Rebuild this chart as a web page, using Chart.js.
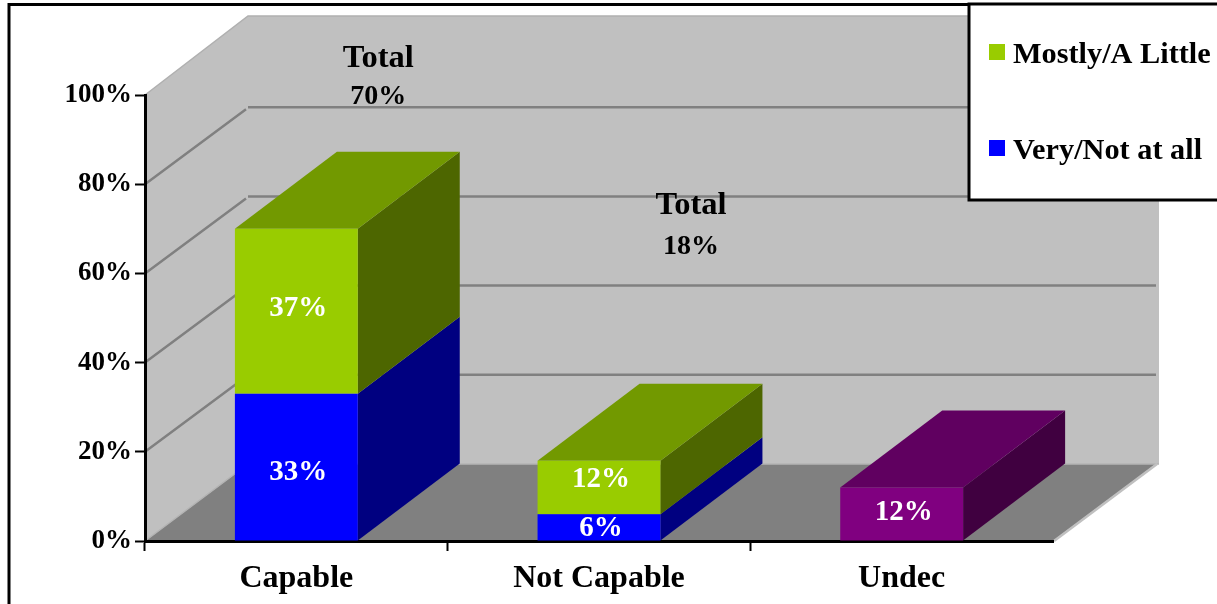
<!DOCTYPE html>
<html><head><meta charset="utf-8">
<style>html,body{margin:0;padding:0;background:#fff;overflow:hidden}canvas{display:block}</style>
<script src="https://cdn.jsdelivr.net/npm/chart.js@4"></script>
</head><body><canvas id="c" width="1217" height="604"></canvas>
<script>
const categories = ['Capable', 'Not Capable', 'Undec'];
const veryValues = [33, 6, null];
const mostlyValues = [37, 12, null];
const undecValues = [null, null, 12];
const yTickLabels = ['0%', '20%', '40%', '60%', '80%', '100%'];
const totalLabels = [['Total', '70%'], ['Total', '18%'], null];
const legendOrder = [1, 0];

const FONT = '"Liberation Serif", serif';
const depthX = 103, depthY = 77, barDepthX = 102;
const faces = {
  '#0000FF': { top: '#000080', side: '#000080' },
  '#99CC00': { top: '#729900', side: '#4D6600' },
  '#800080': { top: '#600060', side: '#400040' }
};
const labelNudge = [[4, 0, 0], [-4, -9, 0], [0, 0, -2]];
function poly(ctx, pts, fill) {
  ctx.beginPath();
  pts.forEach((p, i) => i ? ctx.lineTo(p[0], p[1]) : ctx.moveTo(p[0], p[1]));
  ctx.closePath();
  ctx.fillStyle = fill; ctx.fill();
}
const scene = {
  id: 'scene',
  beforeDraw(chart) {
    const { ctx, chartArea: a, scales: { y } } = chart;
    ctx.save();
    ctx.fillStyle = '#fff';
    ctx.fillRect(0, 0, chart.width, chart.height);
    const L = a.left, R = a.right, T = a.top, B = a.bottom;
    poly(ctx, [[L, T], [L + depthX, T - depthY - 2], [R + depthX + 3, T - depthY - 2], [R + depthX + 3, B - depthY], [L + depthX, B - depthY], [L, B]], '#C0C0C0');
    ctx.strokeStyle = '#B0B0B0'; ctx.lineWidth = 1.5;
    ctx.beginPath(); ctx.moveTo(L, T); ctx.lineTo(L + depthX, T - depthY - 2); ctx.lineTo(R + depthX + 3, T - depthY - 2); ctx.stroke();
    ctx.strokeStyle = '#808080'; ctx.lineWidth = 2.5;
    y.ticks.forEach(t => {
      if (t.value === 0 || t.value === 100) return;
      const py = y.getPixelForValue(t.value);
      ctx.beginPath();
      ctx.moveTo(L, py); ctx.lineTo(L + depthX - 2, py - depthY + 2);
      ctx.moveTo(L + depthX, py - depthY); ctx.lineTo(R + depthX, py - depthY);
      ctx.stroke();
    });
    poly(ctx, [[L, B], [L + depthX, B - depthY], [R + depthX, B - depthY], [R, B]], '#808080');
    ctx.strokeStyle = '#B4B4B4'; ctx.lineWidth = 1.5;
    ctx.beginPath(); ctx.moveTo(L, B); ctx.lineTo(L + depthX, B - depthY); ctx.lineTo(R + depthX + 3, B - depthY); ctx.stroke();
    ctx.strokeStyle = '#C0C0C0'; ctx.lineWidth = 2.5;
    ctx.beginPath(); ctx.moveTo(R + 1, B); ctx.lineTo(R + depthX + 1, B - depthY); ctx.stroke();
    ctx.strokeStyle = '#000'; ctx.lineWidth = 3;
    ctx.beginPath(); ctx.moveTo(9, 612); ctx.lineTo(9, 4.5); ctx.lineTo(1225, 4.5); ctx.stroke();
    ctx.restore();
  },
  beforeDatasetsDraw(chart) {
    const { ctx } = chart;
    ctx.save();
    chart.data.labels.forEach((_, i) => {
      let last = -1;
      chart.data.datasets.forEach((d, k) => { if (d.data[i] != null) last = k; });
      chart.data.datasets.forEach((d, k) => {
        if (d.data[i] == null) return;
        const el = chart.getDatasetMeta(k).data[i];
        const l = el.x - el.width / 2, r = el.x + el.width / 2;
        const f = faces[d.backgroundColor];
        poly(ctx, [[r, el.y], [r + barDepthX, el.y - depthY], [r + barDepthX, el.base - depthY], [r, el.base]], f.side);
        if (k === last) poly(ctx, [[l, el.y], [l + barDepthX, el.y - depthY], [r + barDepthX, el.y - depthY], [r, el.y]], f.top);
      });
    });
    ctx.restore();
  },
  afterDatasetsDraw(chart) {
    const { ctx, chartArea: a, scales: { x } } = chart;
    ctx.save();
    ctx.textAlign = 'center'; ctx.textBaseline = 'middle';
    ctx.fillStyle = '#fff'; ctx.font = 'bold 29px ' + FONT;
    chart.data.datasets.forEach((d, k) => {
      chart.getDatasetMeta(k).data.forEach((el, i) => {
        if (d.data[i] == null) return;
        ctx.fillText(d.data[i] + '%', el.x + 2, (el.y + el.base) / 2 + 1 + labelNudge[k][i]);
      });
    });
    ctx.fillStyle = '#000';
    const xOff = [82, 92], yOff = [-36, 111];
    totalLabels.forEach((lines, i) => {
      if (!lines) return;
      const cx = x.getPixelForValue(i) + xOff[i];
      ctx.font = 'bold 32.5px ' + FONT;
      ctx.fillText(lines[0], cx, a.top + yOff[i]);
      ctx.font = 'bold 28px ' + FONT;
      ctx.fillText(lines[1], cx, a.top + yOff[i] + (i ? 41 : 38));
    });
    ctx.restore();
  },
  afterDraw(chart) {
    const { ctx } = chart;
    ctx.save();
    ctx.fillStyle = '#fff';
    ctx.fillRect(969, 4, 260, 196);
    ctx.strokeStyle = '#000'; ctx.lineWidth = 3;
    ctx.strokeRect(969, 4, 260, 196);
    ctx.font = 'bold 30.3px ' + FONT;
    ctx.textBaseline = 'middle'; ctx.textAlign = 'left';
    legendOrder.forEach((k, row) => {
      const d = chart.data.datasets[k];
      const cy = 52 + row * 96;
      ctx.fillStyle = d.backgroundColor;
      ctx.fillRect(989, cy - 8, 16, 16);
      ctx.fillStyle = '#000';
      ctx.fillText(d.label, 1013, cy + 3);
    });
    ctx.restore();
  }
};
new Chart(document.getElementById('c'), {
  type: 'bar',
  data: {
    labels: categories,
    datasets: [
      { label: 'Very/Not at all', data: veryValues, backgroundColor: '#0000FF' },
      { label: 'Mostly/A Little', data: mostlyValues, backgroundColor: '#99CC00' },
      { label: 'Undec', data: undecValues, backgroundColor: '#800080' }
    ]
  },
  plugins: [scene],
  options: {
    responsive: false, animation: false, devicePixelRatio: 1,
    categoryPercentage: 1, barPercentage: 0.406,
    layout: { padding: { left: 0, top: 95, right: 164, bottom: 0 } },
    plugins: { legend: { display: false }, tooltip: { enabled: false } },
    scales: {
      x: {
        stacked: true, z: 1,
        afterFit(s) { s.height = 63; },
        grid: { drawOnChartArea: false, drawTicks: true, tickLength: 10, tickWidth: 2, offset: true,
          tickColor(c) { return c.tick ? '#000' : 'rgba(0,0,0,0)'; } },
        border: { color: '#000', width: 3 },
        ticks: { color: '#000', padding: 9, maxRotation: 0, font: { family: FONT, weight: 'bold', size: 32 } }
      },
      y: {
        stacked: true, z: 1, min: 0, max: 100,
        afterFit(s) { s.width = 145; },
        grid: { drawOnChartArea: false, drawTicks: true, tickLength: 10, tickColor: '#000', tickWidth: 2 },
        border: { color: '#000', width: 3 },
        ticks: { stepSize: 20, color: '#000', padding: 3, font: { family: FONT, weight: 'bold', size: 27 },
          callback(v) { return yTickLabels[v / 20]; } }
      }
    }
  }
});
</script></body></html>
